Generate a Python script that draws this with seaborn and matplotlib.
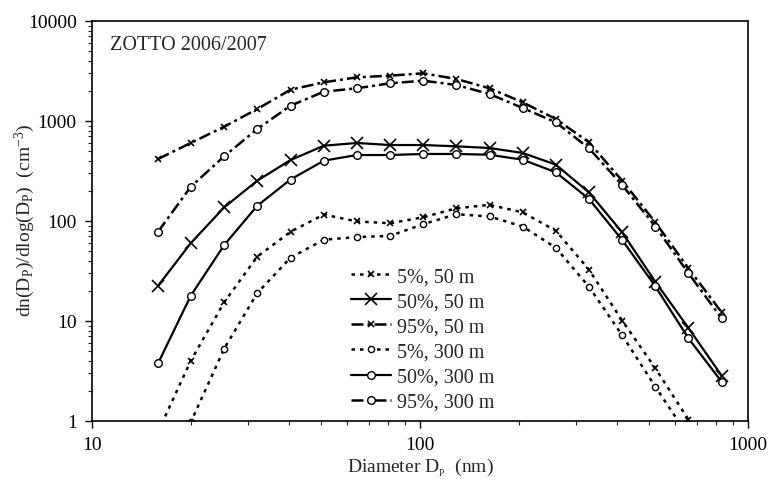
import numpy as np
import pandas as pd
import matplotlib
matplotlib.use("Agg")
import matplotlib.pyplot as plt
import matplotlib.ticker as mticker
import seaborn as sns

# ---- data ----
diameter = [15.9, 20.0, 25.3, 31.9, 40.3, 50.9, 64.2, 81.0, 102.3, 129.1,
            162.9, 205.6, 259.5, 327.5, 413.4, 521.8, 658.5, 831.1]

p05_50m  = [0.78, 4.0, 15.4, 44, 78, 116, 99, 95, 109, 134,
            145, 122, 80, 32.6, 10.1, 3.37, 1.03, 0.3]
p50_50m  = [22.5, 60, 137, 253, 407, 566, 603, 575, 575, 558,
            537, 479, 366, 193, 77, 24.7, 8.5, 2.84]
p95_50m  = [417, 603, 877, 1318, 2056, 2438, 2733, 2840, 3000, 2630,
            2125, 1538, 1047, 612, 253, 97, 33.6, 12.2]
p05_300m = [0.3, 0.97, 5.3, 19, 43, 65, 69, 71, 93, 117,
            111, 88, 54, 22, 7.2, 2.2, 0.7, 0.2]
p50_300m = [3.77, 17.9, 57.5, 142, 260, 401, 457, 457, 468, 468,
            460, 410, 307, 166, 64.6, 22.2, 6.7, 2.47]
p95_300m = [78, 220, 444, 832, 1423, 1963, 2125, 2382, 2530, 2291,
            1862, 1349, 970, 533, 229, 88, 30, 10.6]

labels = ["5%, 50 m", "50%, 50 m", "95%, 50 m", "5%, 300 m", "50%, 300 m", "95%, 300 m"]
series = [p05_50m, p50_50m, p95_50m, p05_300m, p50_300m, p95_300m]

title_text = "ZOTTO 2006/2007"
x_ticks = [10, 100, 1000]
y_ticks = [1, 10, 100, 1000, 10000]

# ---- style ----
sns.set_style("ticks")
plt.rcParams["font.family"] = ["Liberation Serif", "DejaVu Serif"]
plt.rcParams["mathtext.fontset"] = "custom"
plt.rcParams["mathtext.rm"] = "Liberation Serif"
plt.rcParams["mathtext.it"] = "Liberation Serif:italic"

short_dash = (0, (1.4, 2.0))
dash_dot = (0, (4.8, 1.6, 1.2, 1.6))
styles = [
    dict(linestyle=short_dash, lw=1.8, marker="x", ms=4, mew=1.2),
    dict(linestyle="-", lw=1.6, marker="x", ms=8, mew=1.2),
    dict(linestyle=dash_dot, lw=1.8, marker="x", ms=4.5, mew=1.2),
    dict(linestyle=short_dash, lw=1.8, marker="o", ms=4.5, mew=1.0),
    dict(linestyle="-", lw=1.6, marker="o", ms=5.5, mew=1.0),
    dict(linestyle=dash_dot, lw=1.8, marker="o", ms=5.5, mew=1.0),
]

fig = plt.figure(figsize=(7.69, 4.81), dpi=100)
ax = fig.add_axes([92 / 769, 59 / 481, 656 / 769, 400 / 481])

for lab, vals, st in zip(labels, series, styles):
    df = pd.DataFrame({"D": diameter, "v": vals})
    sns.lineplot(data=df, x="D", y="v", ax=ax, color="black", label=lab,
                 linestyle=st["linestyle"], linewidth=st["lw"], marker=st["marker"],
                 markersize=st["ms"], markeredgewidth=st["mew"],
                 markeredgecolor="black", markerfacecolor="white", sort=False)

ax.set_xscale("log")
ax.set_yscale("log")
ax.set_xlim(10, 1000)
ax.set_ylim(1, 10000)

fmt = mticker.FuncFormatter(lambda v, p: f"{v:g}")
ax.xaxis.set_major_locator(mticker.FixedLocator(x_ticks))
ax.yaxis.set_major_locator(mticker.FixedLocator(y_ticks))
ax.xaxis.set_major_formatter(fmt)
ax.yaxis.set_major_formatter(fmt)
ax.xaxis.set_minor_locator(mticker.LogLocator(base=10, subs=np.arange(2, 10)))
ax.yaxis.set_minor_locator(mticker.LogLocator(base=10, subs=np.arange(2, 10)))
ax.xaxis.set_minor_formatter(mticker.NullFormatter())
ax.yaxis.set_minor_formatter(mticker.NullFormatter())
ax.tick_params(axis="both", which="major", direction="out", length=5, width=1,
               labelsize=14, colors="black", pad=6)
ax.tick_params(axis="both", which="minor", direction="out", length=3, width=0.8)

for sp in ax.spines.values():
    sp.set_visible(True)
    sp.set_color("black")
    sp.set_linewidth(1.2)

ax.set_xlabel("Diameter D$_\\mathregular{_P}$  (nm)", fontsize=14, labelpad=2)
ax.set_ylabel("dn(D$_\\mathregular{P}$)/dlog(D$_\\mathregular{P}$)  (cm$^{\\mathregular{-3}}$)",
              fontsize=14)
ax.yaxis.set_label_coords(-0.084, 0.505)
ax.text(0.027, 0.965, title_text, transform=ax.transAxes, fontsize=14.5,
        ha="left", va="top")

leg = ax.legend(loc="upper left", bbox_to_anchor=(0.395, 0.385), frameon=False,
                fontsize=14.5, handlelength=2.0, handletextpad=0.3,
                labelspacing=0.3, borderpad=0, borderaxespad=0)

fig.savefig("out.png", dpi=100, facecolor="white")
